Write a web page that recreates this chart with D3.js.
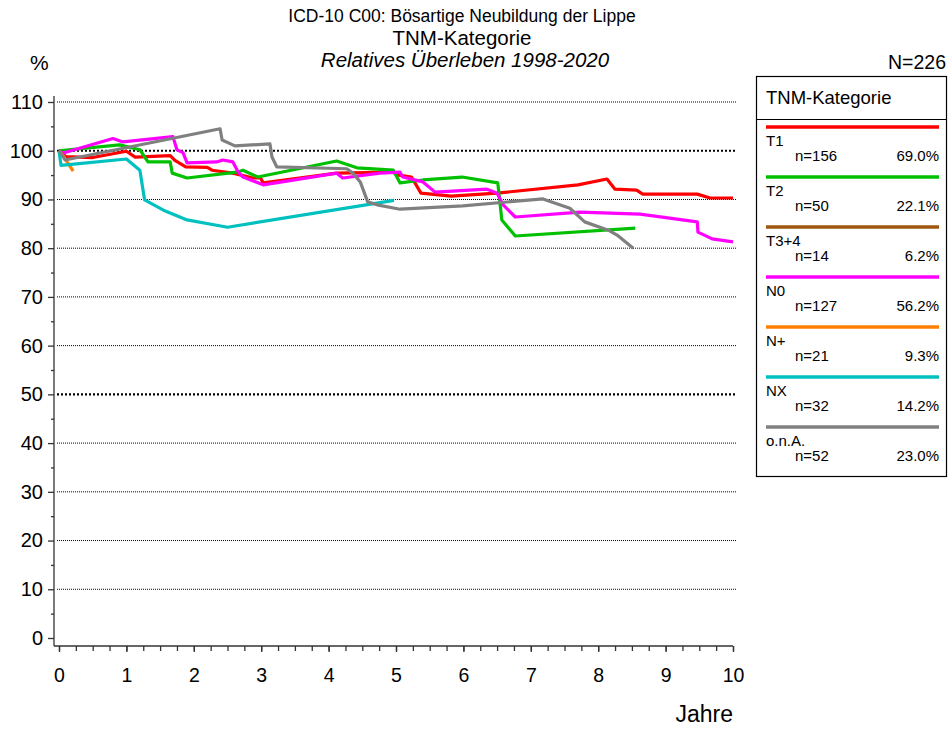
<!DOCTYPE html>
<html>
<head>
<meta charset="utf-8">
<script src="https://cdn.jsdelivr.net/npm/d3@7"></script>
<style>
  body { margin: 0; background: #fff; }
  svg { font-family: "Liberation Sans", Arial, sans-serif; }
</style>
</head>
<body>
<svg id="chart" width="949" height="729"></svg>
<script>
// ========================
// DATA
// ========================
const categories = ["T1", "T2", "T3+4", "N0", "N+", "NX", "o.n.A."];
const counts = [156, 50, 14, 127, 21, 32, 52];
const percents = ["69.0%", "22.1%", "6.2%", "56.2%", "9.3%", "14.2%", "23.0%"];
const colors = ["#ff0000", "#00c000", "#a0560f", "#ff00ff", "#ff8000", "#00c0c0", "#808080"];

// [Jahre, relatives Überleben %]
const curveT1 = [[0,100],[0.1,98.8],[0.5,98.6],[1.0,99.9],[1.13,98.7],[1.65,99.0],[1.72,98.0],
  [1.88,96.7],[2.2,96.6],[2.27,96.0],[2.58,95.4],[2.88,94.4],[2.99,94.4],[3.03,93.4],[4.12,95.4],
  [4.95,95.6],[5.04,95.0],[5.23,94.6],[5.37,91.3],[5.82,90.7],[6.5,91.3],[7.7,93.0],[8.13,94.2],
  [8.25,92.1],[8.57,91.9],[8.66,91.1],[9.47,91.1],[9.66,90.3],[10.0,90.3]];
const curveT2 = [[0,100],[0.9,101.2],[1.2,100.2],[1.32,97.7],[1.65,97.7],[1.68,95.4],[1.9,94.4],
  [2.64,95.6],[2.73,96.0],[2.95,94.6],[4.12,97.9],[4.42,96.5],[4.96,96.0],[5.06,93.4],[5.4,94.0],
  [5.98,94.6],[6.51,93.4],[6.57,85.8],[6.77,82.5],[8.55,84.1]];
const curveT34 = [[0,100],[0.05,99.6]];
const curveN0 = [[0,100],[0.05,99.5],[0.8,102.5],[0.95,101.8],[1.69,102.9],[1.75,100.2],[1.84,99.6],
  [1.9,97.5],[2.34,97.7],[2.43,98.1],[2.58,97.7],[2.66,95.6],[2.73,94.6],[3.03,93.0],[4.12,95.4],
  [4.21,94.4],[4.76,95.4],[5.06,95.6],[5.1,94.6],[5.4,93.6],[5.58,91.5],[6.35,92.1],[6.5,91.3],
  [6.59,88.9],[6.77,86.4],[7.73,87.4],[8.62,87.0],[9.47,85.4],[9.48,83.3],[9.69,81.9],[10.0,81.3]];
const curveNplus = [[0,100],[0.08,98.6],[0.21,95.8]];
const curveNX = [[0,100],[0.03,97.0],[1.0,98.3],[1.2,96.0],[1.27,89.9],[1.55,87.8],[1.9,85.8],
  [2.5,84.3],[4.97,89.8]];
const curveONA = [[0,100],[0.09,98.1],[2.39,104.5],[2.42,102.2],[2.61,101.0],[3.13,101.4],[3.16,98.7],
  [3.23,96.7],[4.27,96.3],[4.36,95.4],[4.47,93.6],[4.58,89.5],[4.72,88.9],[5.06,88.0],[5.99,88.7],
  [7.18,90.1],[7.58,88.2],[7.8,85.4],[8.15,83.7],[8.28,82.7],[8.52,80.0]];
const curves = [curveT1, curveT2, curveT34, curveN0, curveNplus, curveNX, curveONA];

const yTicks = [0, 10, 20, 30, 40, 50, 60, 70, 80, 90, 100, 110];
const xTicks = [0, 1, 2, 3, 4, 5, 6, 7, 8, 9, 10];

// ========================
// SCALES
// ========================
const svg = d3.select("#chart");
const x = d3.scaleLinear().domain([0, 10]).range([59, 733]);
const y = d3.scaleLinear().domain([0, 110]).range([638, 102]);

// titles
svg.append("text").attr("x", 462).attr("y", 22).attr("text-anchor", "middle")
  .attr("font-size", 17.5).text("ICD-10 C00: Bösartige Neubildung der Lippe");
svg.append("text").attr("x", 462).attr("y", 45).attr("text-anchor", "middle")
  .attr("font-size", 20.5).text("TNM-Kategorie");
svg.append("text").attr("x", 465).attr("y", 67).attr("text-anchor", "middle")
  .attr("font-size", 20.5).attr("font-style", "italic").text("Relatives Überleben 1998-2020");
svg.append("text").attr("x", 30).attr("y", 70).attr("font-size", 21).text("%");
svg.append("text").attr("x", 946).attr("y", 69).attr("text-anchor", "end")
  .attr("font-size", 19.5).text("N=226");

// gridlines
svg.append("g").selectAll("line")
  .data(yTicks.filter(d => d > 0))
  .enter().append("line")
  .attr("x1", 57).attr("x2", 736)
  .attr("y1", d => y(d)).attr("y2", d => y(d))
  .attr("stroke", "#000")
  .attr("stroke-width", d => (d === 50 || d === 100) ? 2.2 : 1)
  .attr("stroke-dasharray", d => (d === 50 || d === 100) ? "2,2" : "1,1");

// y axis
const yAxisG = svg.append("g").attr("transform", "translate(54,0)");
yAxisG.call(d3.axisLeft(y).tickValues(d3.range(5, 110, 10)).tickSize(3).tickFormat(""));
yAxisG.append("g").call(d3.axisLeft(y).tickValues(yTicks).tickSize(6).tickPadding(5));
yAxisG.selectAll(".domain").remove();
yAxisG.append("line").attr("x1", 0).attr("x2", 0).attr("y1", 96).attr("y2", 646).attr("stroke", "#333").attr("stroke-width", 1.3);
yAxisG.selectAll("line").attr("stroke", "#333").attr("stroke-width", 1.3);
yAxisG.selectAll("text").attr("font-size", 20).attr("fill", "#000")
  .attr("font-family", "Liberation Sans, Arial, sans-serif");

// x axis
const xAxisG = svg.append("g").attr("transform", "translate(0,646)");
xAxisG.call(d3.axisBottom(x).tickValues(d3.range(0, 10.01, 0.25)).tickSize(5).tickFormat(""));
xAxisG.append("g").call(d3.axisBottom(x).tickValues(xTicks).tickSize(6).tickPadding(16));
xAxisG.selectAll(".domain").remove();
xAxisG.append("line").attr("x1", 54).attr("x2", 733).attr("stroke", "#333").attr("stroke-width", 1.3);
xAxisG.selectAll("line").attr("stroke", "#333").attr("stroke-width", 1.3);
xAxisG.selectAll("text").attr("font-size", 19.5).attr("fill", "#000")
  .attr("font-family", "Liberation Sans, Arial, sans-serif");

svg.append("text").attr("x", 733).attr("y", 722).attr("text-anchor", "end")
  .attr("font-size", 23).text("Jahre");

// curves
const line = d3.line().x(d => x(d[0])).y(d => y(d[1]));
svg.append("g").selectAll("path")
  .data(curves)
  .enter().append("path")
  .attr("d", line)
  .attr("fill", "none")
  .attr("stroke", (d, i) => colors[i])
  .attr("stroke-width", 3.2)
  .attr("stroke-linejoin", "round");

// ========================
// LEGEND
// ========================
const lg = svg.append("g");
lg.append("rect").attr("x", 756.5).attr("y", 76.5).attr("width", 190).attr("height", 400)
  .attr("fill", "#fff").attr("stroke", "#000").attr("stroke-width", 1.2);
lg.append("line").attr("x1", 756).attr("x2", 947).attr("y1", 119.5).attr("y2", 119.5)
  .attr("stroke", "#000").attr("stroke-width", 1);
lg.append("text").attr("x", 766).attr("y", 104).attr("font-size", 18.5).text("TNM-Kategorie");

const entry = lg.selectAll(".entry").data(categories).enter().append("g")
  .attr("transform", (d, i) => `translate(0,${127 + i * 50})`);
entry.append("line").attr("x1", 766).attr("x2", 939)
  .attr("stroke", (d, i) => colors[i]).attr("stroke-width", 3.5);
entry.append("text").attr("x", 766).attr("y", 19).attr("font-size", 15).text(d => d);
entry.append("text").attr("x", 795).attr("y", 34).attr("font-size", 15).text((d, i) => `n=${counts[i]}`);
entry.append("text").attr("x", 939).attr("y", 34).attr("text-anchor", "end")
  .attr("font-size", 15).text((d, i) => percents[i]);
</script>
</body>
</html>
